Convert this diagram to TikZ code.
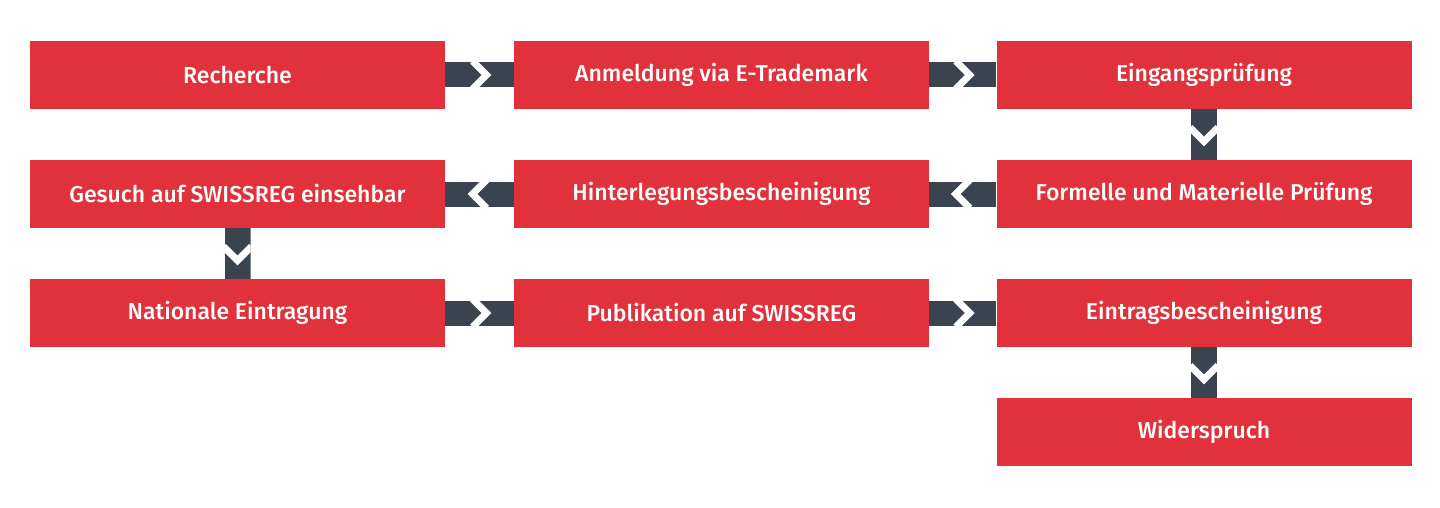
\documentclass[tikz,border=0pt]{standalone}
\usepackage{fontspec}
\setmainfont{Fira Sans}[UprightFont=* Medium]
\usetikzlibrary{calc}
\definecolor{boxred}{HTML}{E1313B}
\definecolor{conn}{HTML}{3B434E}
\begin{document}
\begin{tikzpicture}[x=1pt,y=-1pt,
  stepbox/.style={fill=boxred,draw=none,minimum width=415pt,minimum height=68pt,inner sep=0pt,
    text=white,font=\fontsize{23}{26}\selectfont},
  hbar/.style={fill=conn,draw=none},
  chev/.style={draw=white,line width=7pt,line cap=butt,line join=miter}]
\useasboundingbox (0,0) rectangle (1440,508);
% nodes
\node[stepbox] (a) at (237.5,75) {Recherche};
\node[stepbox] (b) at (721.5,75) {Anmeldung via E-Trademark};
\node[stepbox] (c) at (1204,75) {Eingangsprüfung};
\node[stepbox] (d) at (1204,194) {Formelle und Materielle Prüfung};
\node[stepbox] (e) at (721.5,194) {Hinterlegungsbescheinigung};
\node[stepbox] (f) at (237.5,194) {Gesuch auf SWISSREG einsehbar};
\node[stepbox] (g) at (237.5,313) {Nationale Eintragung};
\node[stepbox] (h) at (721.5,313) {Publikation auf SWISSREG};
\node[stepbox] (i) at (1204,313) {Eintragsbescheinigung};
\node[stepbox] (j) at (1204,432) {Widerspruch};
% horizontal connectors, right-pointing
\foreach \s/\t in {a/b,b/c,g/h,h/i}{
  \begin{scope}
    \clip ([yshift=-12.5pt]\s.east) rectangle ([yshift=12.5pt]\t.west);
    \fill[hbar] ([yshift=-12.5pt]\s.east) rectangle ([yshift=12.5pt]\t.west);
    \coordinate (m) at ($(\s.east)!0.5!(\t.west)$);
    \draw[chev] ($(m)+(-7,-14)$) -- ($(m)+(7,0)$) -- ($(m)+(-7,14)$);
  \end{scope}
}
% horizontal connectors, left-pointing
\foreach \s/\t in {d/e,e/f}{
  \begin{scope}
    \clip ([yshift=-12.5pt]\s.west) rectangle ([yshift=12.5pt]\t.east);
    \fill[hbar] ([yshift=-12.5pt]\s.west) rectangle ([yshift=12.5pt]\t.east);
    \coordinate (m) at ($(\s.west)!0.5!(\t.east)$);
    \draw[chev] ($(m)+(7,-14)$) -- ($(m)+(-7,0)$) -- ($(m)+(7,14)$);
  \end{scope}
}
% vertical connectors, down-pointing
\foreach \s/\t in {c/d,f/g,i/j}{
  \begin{scope}
    \clip ([xshift=-13pt]\s.south) rectangle ([xshift=13pt]\t.north);
    \fill[hbar] ([xshift=-13pt]\s.south) rectangle ([xshift=13pt]\t.north);
    \coordinate (m) at ($(\s.south)!0.5!(\t.north)$);
    \draw[chev] ($(m)+(-14,-7)$) -- ($(m)+(0,7)$) -- ($(m)+(14,-7)$);
  \end{scope}
}
\end{tikzpicture}
\end{document}
